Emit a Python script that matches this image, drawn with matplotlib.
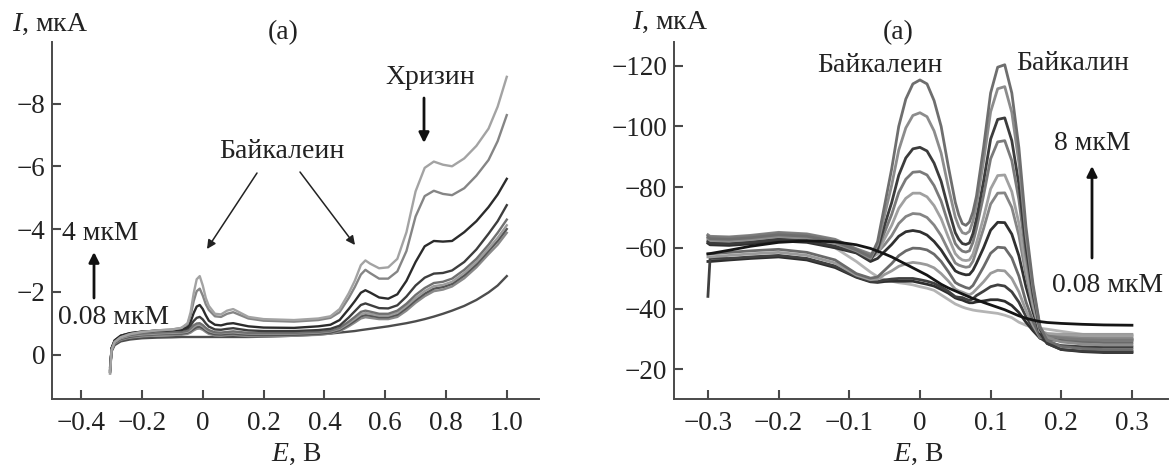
import matplotlib
matplotlib.use("Agg")
import matplotlib.pyplot as plt

plt.rcParams["font.family"] = ["Liberation Serif", "DejaVu Serif"]
plt.rcParams["mathtext.fontset"] = "custom"
plt.rcParams["mathtext.rm"] = "Liberation Serif"
plt.rcParams["mathtext.it"] = "Liberation Serif:italic"

# ---------------- left panel: potentials (V) and currents (uA) ----------------
e_left = [-0.305, -0.300, -0.29, -0.27, -0.24, -0.20, -0.15, -0.10, -0.07,
          -0.05, -0.04, -0.03, -0.02, -0.01, 0.00, 0.01, 0.02,
          0.04, 0.06, 0.08, 0.10, 0.12, 0.15, 0.20,
          0.30, 0.38, 0.42, 0.45, 0.48, 0.50, 0.52, 0.535, 0.55,
          0.58, 0.61, 0.64, 0.67, 0.70, 0.73, 0.76, 0.79, 0.82,
          0.86, 0.90, 0.94, 0.97, 1.00]

i_left_1 = [0.6, -0.15, -0.4, -0.55, -0.65, -0.72, -0.77, -0.8, -0.85,
            -1.0, -1.35, -1.95, -2.4, -2.5, -2.2, -1.8, -1.55,
            -1.3, -1.28, -1.4, -1.45, -1.35, -1.2, -1.13,
            -1.1, -1.15, -1.22, -1.45, -1.95, -2.35, -2.85, -3.0, -2.9,
            -2.75, -2.78, -3.05, -3.9, -5.2, -5.95, -6.15, -6.05, -6.0,
            -6.25, -6.65, -7.2, -7.9, -8.85]
i_left_2 = [0.6, -0.15, -0.4, -0.55, -0.65, -0.72, -0.77, -0.8, -0.85,
            -0.97, -1.25, -1.7, -2.02, -2.1, -1.88, -1.6, -1.42,
            -1.22, -1.2, -1.3, -1.35, -1.27, -1.15, -1.08,
            -1.05, -1.1, -1.17, -1.35, -1.8, -2.15, -2.55, -2.7, -2.6,
            -2.42, -2.42, -2.65, -3.3, -4.4, -5.05, -5.22, -5.12, -5.08,
            -5.3, -5.7, -6.2, -6.8, -7.63]
i_left_3 = [0.55, -0.2, -0.45, -0.6, -0.68, -0.73, -0.76, -0.78, -0.8,
            -0.88, -1.05, -1.32, -1.53, -1.58, -1.45, -1.25, -1.08,
            -0.95, -0.93, -0.98, -1.0, -0.96, -0.9, -0.86,
            -0.85, -0.9, -0.95, -1.1, -1.45, -1.7, -1.97, -2.05, -1.98,
            -1.82, -1.78, -1.92, -2.35, -2.95, -3.45, -3.62, -3.6, -3.62,
            -3.9, -4.25, -4.7, -5.1, -5.6]
i_left_4 = [0.55, -0.2, -0.45, -0.6, -0.68, -0.73, -0.76, -0.78, -0.78,
            -0.83, -0.93, -1.07, -1.17, -1.2, -1.12, -0.99, -0.89,
            -0.8, -0.79, -0.82, -0.84, -0.81, -0.77, -0.75,
            -0.75, -0.78, -0.82, -0.92, -1.18, -1.38, -1.58, -1.63, -1.58,
            -1.48, -1.47, -1.57, -1.85, -2.2, -2.45, -2.58, -2.6, -2.68,
            -2.95, -3.35, -3.85, -4.25, -4.76]
i_left_5 = [0.5, -0.2, -0.42, -0.55, -0.62, -0.67, -0.7, -0.72, -0.72,
            -0.76, -0.84, -0.93, -0.99, -1.0, -0.94, -0.85, -0.78,
            -0.71, -0.7, -0.72, -0.74, -0.72, -0.69, -0.68,
            -0.69, -0.72, -0.76, -0.85, -1.05, -1.2, -1.36, -1.4, -1.37,
            -1.3, -1.3, -1.4, -1.62, -1.9, -2.12, -2.28, -2.32, -2.42,
            -2.7, -3.05, -3.5, -3.88, -4.3]
i_left_6 = [0.5, -0.18, -0.4, -0.52, -0.6, -0.64, -0.67, -0.69, -0.7,
            -0.73, -0.79, -0.88, -0.94, -0.95, -0.9, -0.81, -0.75,
            -0.69, -0.68, -0.7, -0.71, -0.69, -0.67, -0.66,
            -0.67, -0.7, -0.74, -0.82, -1.0, -1.14, -1.28, -1.32, -1.3,
            -1.24, -1.24, -1.33, -1.55, -1.8, -2.02, -2.18, -2.22, -2.32,
            -2.6, -2.95, -3.38, -3.72, -4.12]
i_left_7 = [0.5, -0.18, -0.38, -0.5, -0.57, -0.62, -0.65, -0.67, -0.67,
            -0.7, -0.75, -0.82, -0.88, -0.89, -0.84, -0.77, -0.7,
            -0.65, -0.64, -0.66, -0.67, -0.65, -0.63, -0.62,
            -0.63, -0.66, -0.7, -0.78, -0.95, -1.08, -1.22, -1.26, -1.24,
            -1.19, -1.19, -1.27, -1.48, -1.73, -1.94, -2.1, -2.15, -2.25,
            -2.52, -2.87, -3.3, -3.62, -4.0]
i_left_8 = [0.45, -0.15, -0.35, -0.47, -0.54, -0.58, -0.61, -0.63, -0.63,
            -0.66, -0.7, -0.77, -0.82, -0.83, -0.79, -0.72, -0.66,
            -0.61, -0.6, -0.62, -0.63, -0.61, -0.59, -0.58,
            -0.6, -0.63, -0.67, -0.74, -0.9, -1.02, -1.15, -1.19, -1.17,
            -1.13, -1.13, -1.2, -1.4, -1.65, -1.86, -2.02, -2.07, -2.17,
            -2.43, -2.78, -3.2, -3.5, -3.88]
i_left_9 = [0.4, -0.1, -0.3, -0.42, -0.48, -0.52, -0.54, -0.55, -0.56,
            -0.56, -0.56, -0.56, -0.56, -0.56, -0.56, -0.56, -0.56,
            -0.56, -0.56, -0.56, -0.56, -0.56, -0.56, -0.57,
            -0.6, -0.64, -0.67, -0.7, -0.73, -0.75, -0.78, -0.8, -0.82,
            -0.86, -0.9, -0.95, -1.0, -1.06, -1.13, -1.21, -1.3, -1.4,
            -1.55, -1.74, -1.98, -2.2, -2.5]

left_curves = [i_left_9, i_left_8, i_left_7, i_left_6, i_left_5,
               i_left_4, i_left_3, i_left_2, i_left_1]
left_colors = ["#4d4d4d", "#8a8a8a", "#555555", "#9c9c9c", "#707070",
               "#3d3d3d", "#2b2b2b", "#858585", "#a3a3a3"]

left_xticks = [-0.4, -0.2, 0.0, 0.2, 0.4, 0.6, 0.8, 1.0]
left_xlabels = ["\u22120.4", "\u22120.2", "0", "0.2", "0.4", "0.6", "0.8", "1.0"]
left_yticks = [-8, -6, -4, -2, 0]
left_ylabels = ["\u22128", "\u22126", "\u22124", "\u22122", "0"]

# ---------------- right panel ----------------
e_right = [-0.300, -0.297, -0.27, -0.24, -0.20, -0.16, -0.12, -0.09,
           -0.07, -0.06, -0.05, -0.04, -0.03, -0.02, -0.01, 0.00, 0.01,
           0.02, 0.03, 0.04, 0.05, 0.055, 0.06, 0.065, 0.07, 0.075,
           0.08, 0.09, 0.10, 0.11,
           0.12, 0.13, 0.14, 0.15, 0.16, 0.17, 0.18,
           0.20, 0.23, 0.26, 0.30]

i_right_1 = [-63.5, -63.0, -62.8, -63.3, -64.3, -63.8, -62.0, -59.3,
             -57.0, -62.0, -74.0, -86.0, -100.0, -109.0, -114.0, -115.3, -114.0,
             -108.5, -100.0, -87.0, -75.0, -70.8, -68.0, -67.4, -68.5, -71.8,
             -77.0, -93.0, -111.0, -119.5,
             -120.3, -111.0, -93.0, -67.0, -48.0, -34.0, -29.5,
             -27.5, -26.8, -26.5, -26.5]
i_right_2 = [-63.0, -62.5, -62.3, -62.8, -63.8, -63.3, -61.5, -59.0,
             -56.5, -61.0, -70.8, -80.6, -92.2, -99.5, -103.6, -104.5, -103.2,
             -98.5, -91.2, -80.2, -70.1, -67.0, -65.0, -64.6, -65.4, -68.8,
             -74.0, -88.5, -104.8, -112.4,
             -113.1, -104.6, -88.1, -64.3, -46.7, -33.7, -30.5,
             -29.0, -28.3, -28.0, -28.0]
i_right_3 = [-62.0, -61.5, -61.3, -61.8, -62.8, -62.3, -60.5, -58.5,
             -56.0, -59.5, -67.5, -74.9, -83.9, -89.6, -92.6, -93.1, -91.9,
             -87.9, -81.9, -73.1, -65.0, -62.8, -61.4, -61.1, -61.6, -64.7,
             -69.6, -81.9, -95.8, -102.3,
             -102.8, -95.3, -81.0, -60.3, -44.9, -33.3, -28.5,
             -26.5, -26.0, -25.8, -25.8]
i_right_4 = [-64.0, -63.5, -63.3, -63.8, -64.8, -64.3, -62.5, -59.5,
             -57.5, -59.3, -65.1, -71.0, -78.2, -82.6, -84.9, -85.1, -84.0,
             -80.5, -75.4, -68.1, -61.4, -59.9, -58.9, -58.6, -59.0, -61.8,
             -66.4, -77.2, -89.3, -94.9,
             -95.3, -88.7, -75.9, -57.5, -43.6, -33.0, -31.0,
             -30.2, -29.7, -29.5, -29.5]
i_right_5 = [-62.5, -62.0, -61.8, -62.3, -63.3, -62.8, -61.0, -58.8,
             -56.5, -58.0, -63.0, -67.4, -73.0, -76.3, -78.0, -78.0, -76.8,
             -73.9, -69.6, -63.6, -58.1, -56.8, -56.0, -55.8, -56.0, -57.9,
             -61.6, -70.0, -79.4, -83.8,
             -84.0, -78.5, -68.1, -53.2, -41.5, -32.6, -31.8,
             -31.5, -31.1, -31.0, -31.0]
i_right_6 = [-64.3, -63.8, -63.6, -64.1, -65.1, -64.6, -62.8, -59.7,
             -58.0, -58.5, -61.0, -64.0, -68.0, -70.3, -71.3, -71.1, -70.0,
             -67.5, -64.0, -59.3, -55.0, -54.3, -53.9, -53.6, -53.8, -55.6,
             -59.1, -66.3, -74.4, -78.0,
             -78.1, -73.3, -64.1, -51.0, -40.5, -32.4, -31.3,
             -30.8, -30.4, -30.2, -30.2]
i_right_7 = [-61.5, -61.0, -60.8, -61.3, -62.3, -61.8, -60.0, -58.3,
             -55.5, -56.5, -58.8, -61.1, -63.8, -65.3, -65.7, -65.3, -64.2,
             -62.1, -59.3, -55.7, -52.4, -51.8, -51.4, -51.1, -51.2, -52.6,
             -54.9, -60.0, -65.8, -68.4,
             -68.3, -64.5, -57.4, -47.2, -38.8, -32.0, -28.5,
             -26.5, -25.8, -25.5, -25.5]
i_right_8 = [-58.0, -58.0, -58.5, -59.0, -59.5, -58.5, -56.0, -51.5,
             -50.0, -50.4, -52.6, -54.8, -57.4, -59.0, -59.9, -59.8, -59.3,
             -57.9, -55.5, -52.2, -48.6, -47.9, -47.4, -46.9, -46.6, -47.6,
             -49.6, -53.7, -58.2, -60.2,
             -60.0, -56.7, -50.7, -42.2, -35.8, -30.8, -29.8,
             -29.3, -29.0, -28.8, -28.8]
i_right_9 = [-57.0, -57.0, -57.5, -58.0, -58.5, -57.5, -55.0, -51.0,
             -49.5, -49.7, -51.2, -52.4, -53.9, -54.7, -55.2, -54.9, -54.4,
             -53.4, -51.5, -49.1, -46.4, -45.8, -45.4, -44.9, -44.5, -45.2,
             -46.4, -48.8, -51.6, -52.6,
             -52.4, -49.9, -45.5, -39.3, -34.5, -30.5, -31.0,
             -31.5, -31.5, -31.5, -31.5]
i_right_10 = [-44.0, -56.5, -56.5, -57.0, -57.5, -56.5, -54.0, -50.5,
              -49.0, -48.9, -49.4, -49.7, -49.9, -49.9, -49.9, -49.5, -49.0,
              -48.3, -47.1, -45.7, -43.9, -43.7, -43.6, -43.1, -42.7, -43.2,
              -44.3, -45.7, -47.2, -47.8,
              -47.4, -45.5, -42.1, -37.4, -33.6, -30.3, -28.8,
              -27.8, -27.4, -27.3, -27.3]
i_right_11 = [-55.5, -55.5, -56.0, -56.5, -57.0, -56.0, -53.5, -50.3,
              -48.8, -48.6, -48.9, -49.0, -49.0, -49.0, -49.0, -48.5, -48.0,
              -47.4, -46.3, -45.1, -43.5, -43.1, -42.8, -42.3, -41.9, -41.9,
              -42.2, -42.5, -42.9, -42.9,
              -42.4, -41.0, -38.7, -35.5, -32.7, -30.2, -29.9,
              -29.8, -29.8, -29.8, -29.8]
i_right_12 = [-62.0, -62.0, -62.0, -62.5, -63.5, -63.0, -60.0, -55.5,
              -52.0, -50.5, -49.5, -49.0, -48.5, -48.2, -47.8, -47.2, -46.7,
              -46.0, -44.5, -43.0, -41.5, -41.0, -40.5, -40.1, -39.8, -39.5,
              -39.3, -39.0, -38.7, -38.4,
              -37.8, -37.0, -35.5, -34.5, -33.8, -33.5, -33.2,
              -32.5, -31.5, -31.2, -31.0]
i_right_13 = [-58.0, -58.1, -59.2, -60.5, -61.8, -62.3, -62.0, -61.0,
              -59.8, -58.9, -58.0, -57.0, -55.8, -54.6, -53.4, -52.2, -51.0,
              -49.5, -48.0, -46.8, -45.8, -45.3, -44.8, -44.3, -43.8, -43.3,
              -42.9, -42.0, -41.2, -40.4,
              -39.6, -38.6, -37.6, -36.8, -36.2, -35.7, -35.4,
              -35.1, -34.8, -34.6, -34.5]

right_curves = [i_right_12, i_right_11, i_right_10, i_right_9, i_right_8,
                i_right_7, i_right_6, i_right_5, i_right_4, i_right_3,
                i_right_2, i_right_1, i_right_13]
right_colors = ["#b4b4b4", "#2e2e2e", "#404040", "#9a9a9a", "#6a6a6a",
                "#303030", "#858585", "#a0a0a0", "#7a7a7a", "#3c3c3c",
                "#8c8c8c", "#6e6e6e", "#151515"]

right_xticks = [-0.3, -0.2, -0.1, 0.0, 0.1, 0.2, 0.3]
right_xlabels = ["\u22120.3", "\u22120.2", "\u22120.1", "0", "0.1", "0.2", "0.3"]
right_yticks = [-120, -100, -80, -60, -40, -20]
right_ylabels = ["\u2212120", "\u2212100", "\u221280", "\u221260", "\u221240", "\u221220"]

W, H = 1170, 466
FS_TICK = 19.5
FS = 20
AX_COLOR = "#4a4a4a"


def fp(x, y):
    # pixel position (from top-left) -> figure fraction
    return (x / W, 1 - y / H)


def style_axes(ax):
    for side in ["top", "right"]:
        ax.spines[side].set_visible(False)
    for side in ["left", "bottom"]:
        ax.spines[side].set_color(AX_COLOR)
        ax.spines[side].set_linewidth(1.4)
    ax.tick_params(direction="in", length=6.5, width=1.5, color=AX_COLOR,
                   labelsize=FS_TICK, labelcolor="#222222")
    ax.tick_params(axis="x", pad=9)
    ax.tick_params(axis="y", pad=5)
    ax.patch.set_alpha(0)


fig = plt.figure(figsize=(W / 100, H / 100), dpi=100)

ax1 = fig.add_axes([52.3 / W, 1 - 398.5 / H, (539.3 - 52.3) / W, (398.5 - 41.7) / H])
for vals, col in zip(left_curves, left_colors):
    ax1.plot(e_left, vals, color=col, lw=1.7, solid_joinstyle="round")
ax1.set_xlim(-0.495, 1.107)
ax1.set_ylim(1.4, -9.97)
ax1.set_xticks(left_xticks)
ax1.set_xticklabels(left_xlabels)
ax1.set_yticks(left_yticks)
ax1.set_yticklabels(left_ylabels)
style_axes(ax1)

ax2 = fig.add_axes([674 / W, 1 - 399 / H, (1168 - 674) / W, (399 - 42) / H])
for vals, col in zip(right_curves, right_colors):
    ax2.plot(e_right, vals, color=col, lw=2.0, solid_joinstyle="round")
ax2.set_xlim(-0.348, 0.351)
ax2.set_ylim(-10.2, -127.8)
ax2.set_xticks(right_xticks)
ax2.set_xticklabels(right_xlabels)
ax2.set_yticks(right_yticks)
ax2.set_yticklabels(right_ylabels)
style_axes(ax2)

# ---- texts ----
txt = dict(fontsize=FS, color="#222222", ha="center", va="center")
fig.text(*fp(50, 24), "$I$, мкА", **txt)
fig.text(*fp(283, 33), "(a)", **txt)
fig.text(*fp(296, 454), "$E$, В", **txt)
fig.text(*fp(282, 152), "Байкалеин", **txt)
fig.text(*fp(430, 78), "Хризин", **txt)
fig.text(*fp(100, 233), "4 мкМ", **txt)
fig.text(*fp(113, 317), "0.08 мкМ", **txt)

fig.text(*fp(670, 22), "$I$, мкА", **txt)
fig.text(*fp(898, 33), "(a)", **txt)
fig.text(*fp(918, 454), "$E$, В", **txt)
fig.text(*fp(880, 66), "Байкалеин", **txt)
fig.text(*fp(1073, 64), "Байкалин", **txt)
fig.text(*fp(1092, 143), "8 мкМ", **txt)
fig.text(*fp(1108, 285), "0.08 мкМ", **txt)

# ---- arrows ----
thin = dict(arrowstyle="-|>", lw=1.1, color="#222222", mutation_scale=13,
            shrinkA=0, shrinkB=0)
thick = dict(arrowstyle="-|>", lw=2.0, color="#111111", mutation_scale=15,
             shrinkA=0, shrinkB=0)
arrows = [((257, 173), (207, 249), thin), ((300, 172), (355, 245), thin),
          ((424, 98), (424, 143), thick), ((94, 298), (94, 252), thick),
          ((1092, 258), (1092, 166), thick)]
for (x0, y0), (x1, y1), props in arrows:
    fig.add_artist(matplotlib.patches.FancyArrowPatch(
        fp(x0, y0), fp(x1, y1), transform=fig.transFigure, **props))

fig.savefig("out.png", dpi=100)
